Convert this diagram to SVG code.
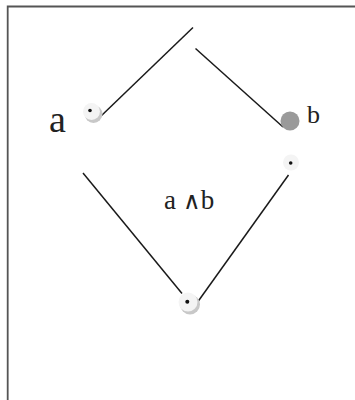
<svg xmlns="http://www.w3.org/2000/svg" width="355" height="400" viewBox="0 0 355 400">
<defs>
<style>
.edge{stroke:#1a1a1a;stroke-width:1.5;fill:none}
.frame{stroke:#555555;stroke-width:1.8;fill:none}
.dot{fill:#111}
.lbl{font-family:"Liberation Serif","Times New Roman",serif;fill:#222}
.shadow{fill:#c8c8c8}
.halo{fill:#f4f4f4}
</style>
</defs>
<rect width="355" height="400" fill="#ffffff"/>
<path class="frame" d="M7.7 400 V6.5 H355"/>
<g id="connectors">
<line class="edge" x1="193" y1="27.5" x2="100" y2="117"/>
<line class="edge" x1="195.5" y1="48.5" x2="283" y2="127"/>
<line class="edge" x1="83" y1="173" x2="182" y2="293.5"/>
<line class="edge" x1="288.5" y1="175" x2="198" y2="301.5"/>
</g>
<g id="node-a">
<circle class="shadow" cx="93.5" cy="114" r="9"/>
<circle class="halo" cx="91.5" cy="111.5" r="8.5"/>
<circle class="dot" cx="90" cy="110.5" r="1.8"/>
<text class="lbl" x="49" y="132" font-size="38">a</text>
</g>
<g id="node-b">
<circle cx="290" cy="121" r="9.5" fill="#9a9a9a"/>
<text class="lbl" x="307" y="123" font-size="26">b</text>
</g>
<g id="node-ab">
<circle class="halo" cx="291" cy="162.5" r="8"/>
<circle class="dot" cx="290.7" cy="163" r="1.8"/>
<text class="lbl" x="164" y="209" font-size="27">a <tspan font-size="24">∧</tspan>b</text>
</g>
<g id="node-bottom">
<circle class="shadow" cx="190" cy="304.5" r="10"/>
<circle class="halo" cx="188" cy="302" r="9.5"/>
<circle class="dot" cx="187.3" cy="301.7" r="2"/>
</g>
</svg>
